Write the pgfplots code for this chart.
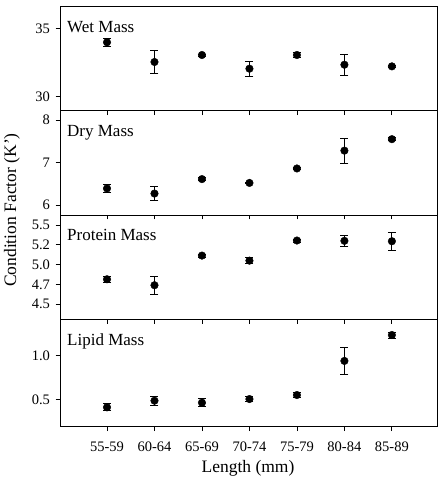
\documentclass[border=0pt]{standalone}
\usepackage{fontspec}
\setmainfont{Liberation Serif}
\usepackage{pgfplots}
\pgfplotsset{compat=1.18}
\usepackage{pgfplotstable}

% x = length class index, y = condition factor, e = error
\pgfplotstableread{
x y e
0 33.98 0.30
1 32.54 0.85
2 33.05 0.08
3 32.05 0.53
4 33.05 0.17
5 32.34 0.77
6 32.22 0.08
}\wetdata
\pgfplotstableread{
x y e
0 6.39 0.10
1 6.27 0.17
2 6.61 0.03
3 6.52 0.02
4 6.86 0.02
5 7.28 0.29
6 7.55 0.03
}\drydata
\pgfplotstableread{
x y e
0 4.815 0.035
1 4.74 0.115
2 5.114 0.02
3 5.05 0.035
4 5.304 0.02
5 5.30 0.07
6 5.295 0.11
}\protdata
\pgfplotstableread{
x y e
0 0.408 0.04
1 0.484 0.053
2 0.461 0.048
3 0.503 0.03
4 0.549 0.03
5 0.94 0.16
6 1.237 0.035
}\lipdata

\pgfplotsset{
  panel/.style={
    scale only axis, width=377pt, anchor=south west,
    xmin=-0.99, xmax=6.95,
    xtick={0,...,6}, xticklabels={},
    tick align=outside, xtick pos=bottom, ytick pos=left,
    major tick length=4.5pt,
    axis line style={line width=0.8pt},
    every tick/.style={black, line width=0.8pt},
    tick label style={font=\fontsize{14.5}{16}\selectfont},
    xticklabel style={yshift=-7pt},
    yticklabel style={xshift=-2pt},
    /pgf/number format/assume math mode=true,
  },
  dots/.style={only marks, mark=*, mark size=3.8pt, black,
    error bars/.cd, y dir=both, y explicit,
    error bar style={line width=0.8pt, black},
    error mark options={rotate=90, mark size=4pt, line width=0.8pt, black}},
}
\tikzset{
  lbl/.style={anchor=north west, inner sep=0pt, xshift=7pt, yshift=-14pt,
    font=\fontsize{17}{20}\selectfont},
}

\begin{document}
\begin{tikzpicture}
\begin{axis}[panel, at={(60pt,368.3pt)}, height=104pt,
  ymin=28.98, ymax=36.58, ytick={30,35}, yticklabels={30,35}]
\addplot[dots] table[x=x, y=y, y error=e] {\wetdata};
\node[lbl] at (rel axis cs:0,1) {Wet Mass};
\end{axis}

\begin{axis}[panel, at={(60pt,264pt)}, height=104.3pt,
  ymin=5.765, ymax=8.22, ytick={6,7,8}, yticklabels={6,7,8}]
\addplot[dots] table[x=x, y=y, y error=e] {\drydata};
\node[lbl] at (rel axis cs:0,1) {Dry Mass};
\end{axis}

\begin{axis}[panel, at={(60pt,159.7pt)}, height=104.3pt,
  ymin=4.31, ymax=5.626, ytick={4.5,4.75,5,5.25,5.5},
  yticklabels={4.5,4.7,5.0,5.2,5.5}]
\addplot[dots] table[x=x, y=y, y error=e] {\protdata};
\node[lbl] at (rel axis cs:0,1) {Protein Mass};
\end{axis}

\begin{axis}[panel, at={(60pt,52.3pt)}, height=107.4pt,
  ymin=0.186, ymax=1.417, ytick={0.5,1.0}, yticklabels={0.5,1.0},
  xticklabels={55-59,60-64,65-69,70-74,75-79,80-84,85-89}]
\addplot[dots] table[x=x, y=y, y error=e] {\lipdata};
\node[lbl] at (rel axis cs:0,1) {Lipid Mass};
\end{axis}

\node[rotate=90, font=\fontsize{17.5}{20}\selectfont] at (12pt,269pt) {Condition Factor (K')};
\node[anchor=base, font=\fontsize{17.5}{20}\selectfont] at (248pt,6.3pt) {Length (mm)};

\pgfresetboundingbox
\path (0,0) rectangle (439pt,479pt);
\end{tikzpicture}
\end{document}
